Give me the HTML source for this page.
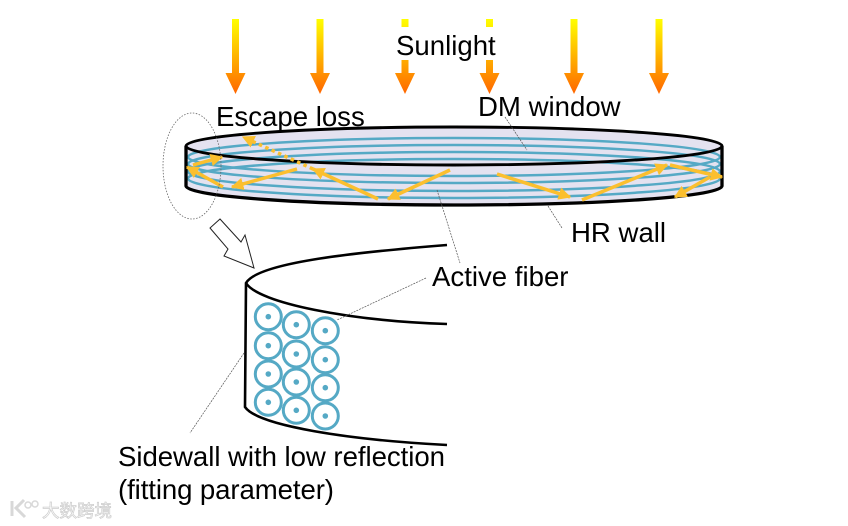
<!DOCTYPE html>
<html>
<head>
<meta charset="utf-8">
<style>
html,body{margin:0;padding:0;background:#fff;width:848px;height:526px;overflow:hidden}
svg{display:block}
text{font-family:"Liberation Sans","Noto Sans CJK SC",sans-serif;font-size:27.6px;fill:#000}
</style>
</head>
<body>
<svg width="848" height="526" viewBox="0 0 848 526" xmlns="http://www.w3.org/2000/svg">
<defs>
<linearGradient id="sun" gradientUnits="userSpaceOnUse" x1="0" y1="19" x2="0" y2="94">
<stop offset="0" stop-color="#ffff00"/><stop offset="1" stop-color="#ff6600"/>
</linearGradient>
<g id="sa"><polygon points="-3.5,19 3.5,19 3.5,73 10,73 0,94 -10,73 -3.5,73" fill="url(#sun)"/></g>
<marker id="ah" viewBox="0 0 10 10" refX="9" refY="5" markerWidth="3.600" markerHeight="3.600" orient="auto"><polygon points="0,0 10,5 0,10" fill="#fbbf2d"/></marker>
<filter id="soft" x="-5%" y="-5%" width="110%" height="110%"><feGaussianBlur stdDeviation="0.35"/></filter>
</defs>

<!-- Sun arrows -->
<g>
<use href="#sa" x="235.500"/>
<use href="#sa" x="320"/>
<use href="#sa" x="405"/>
<use href="#sa" x="489.500"/>
<use href="#sa" x="574"/>
<use href="#sa" x="659"/>
</g>
<rect x="396" y="27" width="102" height="33" fill="#fff"/>
<text x="396" y="55">Sunlight</text>

<!-- Disk -->
<g filter="url(#soft)">
<path d="M186,146 A268,19 0 0 1 722,146 L722,186 A268,19 0 0 1 186,186 Z" fill="#e4e2f0"/>
<g fill="none" stroke="#55a9c5" stroke-width="2.500">
<ellipse cx="454" cy="157" rx="266" ry="19"/>
<ellipse cx="454" cy="164" rx="266" ry="19"/>
<ellipse cx="454" cy="171.500" rx="266" ry="19.500"/>
<ellipse cx="454" cy="178.500" rx="266" ry="19.500"/>
</g>
<g fill="none" stroke="#000">
<ellipse cx="454" cy="146" rx="268" ry="19" stroke-width="2.900"/>
<path d="M186,146 L186,186 A268,19 0 0 0 722,186 L722,146" stroke-width="3.300"/>
</g>

<!-- Yellow rays -->
<g fill="none" stroke="#fbbf2d" stroke-width="3.500" marker-end="url(#ah)">
<line x1="193" y1="165" x2="222" y2="157"/>
<line x1="223" y1="187" x2="187" y2="167"/>
<line x1="297" y1="169" x2="232" y2="187"/>
<line x1="378" y1="199" x2="313" y2="169"/>
<line x1="450" y1="170" x2="388" y2="199"/>
<line x1="497" y1="174" x2="570" y2="197"/>
<line x1="582" y1="200" x2="667" y2="165"/>
<line x1="670" y1="165" x2="722" y2="177"/>
<line x1="710" y1="177" x2="675" y2="197"/>
<line x1="313" y1="169" x2="243" y2="137" stroke-dasharray="3.500 3.500"/>
</g>
</g>

<!-- Dotted ellipse -->
<ellipse cx="192" cy="166" rx="29" ry="53" fill="none" stroke="#666" stroke-width="0.800" stroke-dasharray="1.500 1.500"/>

<!-- Hollow arrow -->
<polygon points="220,219 210,228 228,249 224,256 254,268 245,235 241,242" fill="#fff" stroke="#222" stroke-width="1"/>

<!-- Lower detail -->
<g fill="none" stroke="#000" stroke-width="2.600" filter="url(#soft)">
<path d="M447,245 C360,252 258,262 246,283 L245,407 C258,426 350,440 447,445"/>
<path d="M246,283 C258,303 350,321 447,324"/>
</g>
<g fill="none" stroke="#55a9c5" stroke-width="3">
<circle cx="268.300" cy="316.700" r="13"/><circle cx="268.300" cy="345.700" r="13"/><circle cx="268.300" cy="374" r="13"/><circle cx="268.300" cy="402.300" r="13"/>
<circle cx="296.300" cy="324.700" r="13"/><circle cx="296.300" cy="354" r="13"/><circle cx="296.300" cy="382" r="13"/><circle cx="296.300" cy="410.300" r="13"/>
<circle cx="325.300" cy="330.700" r="13"/><circle cx="325.300" cy="359.700" r="13"/><circle cx="325.300" cy="387.700" r="13"/><circle cx="325.300" cy="416" r="13"/>
</g>
<g fill="#55a9c5">
<circle cx="268.300" cy="316.700" r="2.800"/><circle cx="268.300" cy="345.700" r="2.800"/><circle cx="268.300" cy="374" r="2.800"/><circle cx="268.300" cy="402.300" r="2.800"/>
<circle cx="296.300" cy="324.700" r="2.800"/><circle cx="296.300" cy="354" r="2.800"/><circle cx="296.300" cy="382" r="2.800"/><circle cx="296.300" cy="410.300" r="2.800"/>
<circle cx="325.300" cy="330.700" r="2.800"/><circle cx="325.300" cy="359.700" r="2.800"/><circle cx="325.300" cy="387.700" r="2.800"/><circle cx="325.300" cy="416" r="2.800"/>
</g>

<!-- Leader lines -->
<g stroke="#555" stroke-width="0.700" stroke-dasharray="2 1" fill="none">
<line x1="505" y1="117" x2="527" y2="150"/>
<line x1="548" y1="206" x2="562" y2="228"/>
<line x1="437" y1="190" x2="460" y2="263"/>
<line x1="426" y1="278" x2="337" y2="320"/>
<line x1="244" y1="353" x2="190" y2="433"/>
</g>

<!-- Labels -->
<text x="216" y="126">Escape loss</text>
<text x="478" y="116">DM window</text>
<text x="571" y="242">HR wall</text>
<text x="432" y="286">Active fiber</text>
<text x="118" y="466" textLength="327">Sidewall with low reflection</text>
<text x="118" y="499" textLength="216">(fitting parameter)</text>

<!-- Watermark -->
<g opacity="0.9">
<path d="M12,501 L12,516 M24,500 L16,508 L25,517" fill="none" stroke="#d4d4d4" stroke-width="3"/>
<circle cx="28" cy="505" r="3" fill="none" stroke="#d4d4d4" stroke-width="1.500"/>
<circle cx="35" cy="504" r="3" fill="none" stroke="#d4d4d4" stroke-width="1.500"/>
<text x="42" y="517" style="font-size:17.500px;fill:#fff;stroke:#c8c8c8;stroke-width:0.700px">大数跨境</text>
</g>
</svg>
</body>
</html>
